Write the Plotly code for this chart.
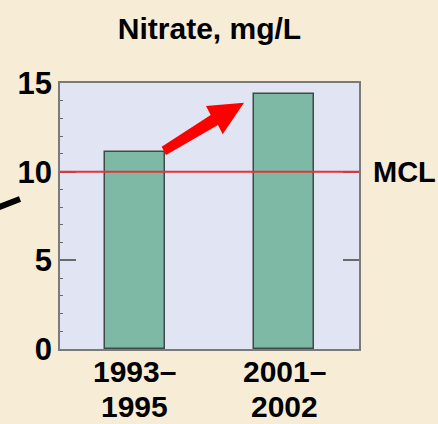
import plotly.graph_objects as go

# Nitrate concentrations by sampling period
periods = ["1993–<br>1995", "2001–<br>2002"]
nitrate = [11.1, 14.4]
mcl = 10
y_ticks = [0, 5, 10, 15]

W, H = 438, 424
L, R, T, B = 60, 79, 83, 75
PW, PH = W - L - R, H - T - B

FONT = "Liberation Sans, Arial, sans-serif"


def px_to_paper(px, py):
    return (px - L) / PW, (H - B - py) / PH


def path_from_px(points):
    pts = [px_to_paper(x, y) for x, y in points]
    return "M " + " L ".join(f"{x:.4f},{y:.4f}" for x, y in pts) + " Z"


fig = go.Figure()
fig.add_trace(go.Bar(
    x=[0, 1], y=nitrate, width=0.4,
    marker=dict(color="#7DB9A5", line=dict(color="#3E4A47", width=1.5)),
    showlegend=False, hoverinfo="skip",
))
# invisible trace to activate the right-hand axis
fig.add_trace(go.Scatter(x=[0], y=[0], yaxis="y2", mode="markers",
                         marker=dict(opacity=0), showlegend=False, hoverinfo="skip"))

fig.update_layout(
    width=W, height=H,
    margin=dict(l=L, r=R, t=T, b=B, pad=0, autoexpand=False),
    paper_bgcolor="#F7EDD6",
    plot_bgcolor="#E1E4F3",
    font=dict(family=FONT, color="#000000"),
    title=dict(text="<b>Nitrate, mg/L</b>", x=0.5, xref="paper", xanchor="center",
               y=1 - 28 / H, yanchor="middle", font=dict(size=30, family=FONT)),
    bargap=0,
    xaxis=dict(
        range=[-0.5, 1.5], tickmode="array", tickvals=[0, 1], showticklabels=False,
        ticks="", showgrid=False, zeroline=False,
        showline=True, linecolor="#7A7A7A", linewidth=1.5, mirror=True, fixedrange=True,
        automargin=False,
    ),
    yaxis=dict(
        range=[0, 15], tickmode="array", tickvals=y_ticks, ticktext=[f"<b>{v}</b>" for v in y_ticks],
        tickfont=dict(size=31, family=FONT), ticks="inside", ticklen=16, tickwidth=1.5,
        tickcolor="#6A6A6A", showgrid=False, zeroline=False,
        showline=True, linecolor="#7A7A7A", linewidth=1.5, mirror=True,
        minor=dict(ticks="inside", dtick=1, ticklen=3, tickwidth=1, tickcolor="#6A6A6A"),
        ticklabelstandoff=0, automargin=False,
    ),
    yaxis2=dict(
        range=[0, 15], overlaying="y", side="right", tickmode="array", tickvals=[5, 10],
        ticks="inside", ticklen=16, tickwidth=1.5, tickcolor="#6A6A6A",
        showticklabels=False, showgrid=False, zeroline=False, showline=False,
        automargin=False,
    ),
)

# category labels under each bar, two lines with tight spacing
line_centres_px = [371, 406.5]
for i, label in enumerate(periods):
    for line, cy in zip(label.split("<br>"), line_centres_px):
        fig.add_annotation(text=f"<b>{line}</b>", xref="x", yref="paper", x=i,
                           y=px_to_paper(0, cy)[1], xanchor="center", yanchor="middle",
                           showarrow=False, font=dict(size=30, family=FONT))

# MCL reference line
fig.add_shape(type="line", xref="paper", yref="y", x0=0, x1=1, y0=mcl, y1=mcl,
              line=dict(color="#E0353B", width=2))
fig.add_annotation(text="<b>MCL</b>", xref="paper", yref="y", x=(371 - L) / PW, y=mcl,
                   xanchor="left", yanchor="middle", showarrow=False,
                   font=dict(size=29, family=FONT))

# red increase arrow
arrow_pts = [(161.7, 146.7), (210.7, 115.0), (206.0, 106.0), (244.0, 102.7),
             (222.7, 134.3), (218.0, 125.0), (166.0, 155.0)]
fig.add_shape(type="path", xref="paper", yref="paper", path=path_from_px(arrow_pts),
              fillcolor="#FF0000", line=dict(width=0))

# leader line entering from the left
x0p, y0p = px_to_paper(-2, 207.5)
x1p, y1p = px_to_paper(20, 199)
fig.add_shape(type="line", xref="paper", yref="paper", x0=x0p, y0=y0p, x1=x1p, y1=y1p,
              line=dict(color="#000000", width=6))

fig.write_html("out.html")
